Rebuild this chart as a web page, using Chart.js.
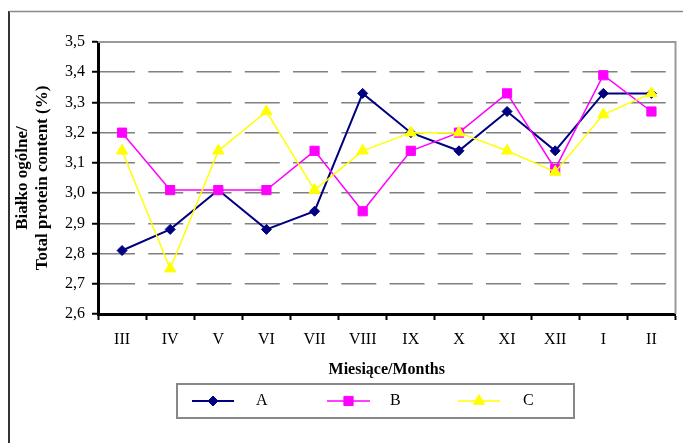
<!DOCTYPE html>
<html>
<head>
<meta charset="utf-8">
<script src="https://cdn.jsdelivr.net/npm/chart.js@4.4.0/dist/chart.umd.min.js"></script>
<style>
html,body{margin:0;padding:0;background:#fff;}
#wrap{width:683px;height:443px;position:relative;}
</style>
</head>
<body>
<div id="wrap"><canvas id="c" width="683" height="443"></canvas></div>
<script>
const categories = ['III','IV','V','VI','VII','VIII','IX','X','XI','XII','I','II'];
const seriesA = [2.81, 2.88, 3.01, 2.88, 2.94, 3.33, 3.20, 3.14, 3.27, 3.14, 3.33, 3.33];
const seriesB = [3.20, 3.01, 3.01, 3.01, 3.14, 2.94, 3.14, 3.20, 3.33, 3.08, 3.39, 3.27];
const seriesC = [3.14, 2.75, 3.14, 3.27, 3.01, 3.14, 3.20, 3.20, 3.14, 3.07, 3.26, 3.33];
const seriesNames = ['A', 'B', 'C'];
const yMin = 2.6, yMax = 3.5, yStep = 0.1;
const yTitle = ['Białko ogólne/', 'Total protein content (%)'];
const xTitle = 'Miesiące/Months';

const FONT = "'Liberation Serif', 'Times New Roman', serif";

const frame = {
  id: 'frame',
  beforeDraw(chart) {
    const ctx = chart.ctx;
    ctx.save();
    ctx.fillStyle = '#fff';
    ctx.fillRect(0, 0, chart.width, chart.height);
    ctx.strokeStyle = '#333';
    ctx.lineWidth = 2;
    ctx.beginPath(); ctx.moveTo(9, 11); ctx.lineTo(9, 443); ctx.stroke();
    ctx.strokeStyle = '#888';
    ctx.lineWidth = 1.5;
    ctx.beginPath(); ctx.moveTo(9, 11.5); ctx.lineTo(683, 11.5); ctx.stroke();
    ctx.restore();
  },
  beforeDatasetsDraw(chart) {
    const ctx = chart.ctx, a = chart.chartArea;
    ctx.save();
    ctx.strokeStyle = '#999';
    ctx.lineWidth = 2;
    ctx.beginPath();
    ctx.moveTo(a.left, a.top); ctx.lineTo(a.right, a.top); ctx.lineTo(a.right, a.bottom);
    ctx.stroke();
    ctx.restore();
  },
  afterDraw(chart) {
    const ctx = chart.ctx;
    ctx.save();
    ctx.strokeStyle = '#888';
    ctx.lineWidth = 2;
    ctx.strokeRect(177, 384, 397, 34);
    const items = [
      {x1: 192, x2: 234, tx: 256},
      {x1: 327, x2: 370, tx: 390},
      {x1: 458, x2: 500, tx: 523}
    ];
    const y = 401;
    chart.data.datasets.forEach((ds, i) => {
      const it = items[i];
      ctx.strokeStyle = ds.borderColor;
      ctx.lineWidth = ds.borderWidth;
      ctx.beginPath(); ctx.moveTo(it.x1, y); ctx.lineTo(it.x2, y); ctx.stroke();
      ctx.fillStyle = ds.pointBackgroundColor;
      ctx.strokeStyle = ds.pointBorderColor;
      ctx.lineWidth = 1;
      Chart.helpers.drawPoint(ctx, {pointStyle: ds.pointStyle, radius: ds.pointRadius, borderWidth: 1, rotation: 0}, (it.x1 + it.x2) / 2, y);
      ctx.fillStyle = '#000';
      ctx.font = '16px ' + FONT;
      ctx.textBaseline = 'middle';
      ctx.textAlign = 'left';
      ctx.fillText(ds.label, it.tx, y);
    });
    ctx.restore();
  }
};

function ds(label, data, color, style, radius, width, order) {
  return {
    label, data,
    borderColor: color, backgroundColor: color,
    pointBackgroundColor: color, pointBorderColor: color,
    borderWidth: width, pointStyle: style, pointRadius: radius,
    pointBorderWidth: 1, tension: 0, order
  };
}

new Chart(document.getElementById('c'), {
  type: 'line',
  data: {
    labels: categories,
    datasets: [
      ds(seriesNames[0], seriesA, '#000080', 'rectRot', 5, 2, 2),
      ds(seriesNames[1], seriesB, '#FF00FF', 'rect', 6.5, 1.5, 1),
      ds(seriesNames[2], seriesC, '#FFFF00', 'triangle', 6.5, 1.5, 0)
    ]
  },
  plugins: [frame],
  options: {
    responsive: false,
    animation: false,
    layout: {padding: {left: 0, right: 6, top: 42, bottom: 0}},
    plugins: {legend: {display: false}, tooltip: {enabled: false}},
    scales: {
      x: {
        offset: true,
        afterFit(s) { s.height = 129; },
        grid: {offset: true, drawOnChartArea: false, drawTicks: true, tickLength: 6, tickColor: '#000', tickWidth: 2},
        border: {display: true, color: '#000', width: 3},
        ticks: {color: '#000', padding: 10, font: {family: FONT, size: 16}, maxRotation: 0, autoSkip: false},
        title: {display: true, text: xTitle, color: '#000', font: {family: FONT, size: 16, weight: 'bold'}, padding: {top: 4, bottom: 64}}
      },
      y: {
        min: yMin, max: yMax,
        afterFit(s) { s.width = 98; },
        grid: {
          color: c => (c.tick && (Math.abs(c.tick.value - yMin) < 1e-6 || Math.abs(c.tick.value - yMax) < 1e-6)) ? 'rgba(0,0,0,0)' : '#808080',
          lineWidth: 1.5, tickLength: 6, tickColor: '#000', tickWidth: 2, drawTicks: true
        },
        border: {display: true, color: '#000', width: 3, dash: [35, 13.25]},
        ticks: {
          stepSize: yStep, color: '#000', padding: 7,
          font: {family: FONT, size: 16},
          callback: v => v.toFixed(1).replace('.', ',')
        },
        title: {display: true, text: yTitle, color: '#000', font: {family: FONT, size: 17, weight: 'bold', lineHeight: 1.2}, padding: {top: 12, bottom: 0}}
      }
    }
  }
});
</script>
</body>
</html>
